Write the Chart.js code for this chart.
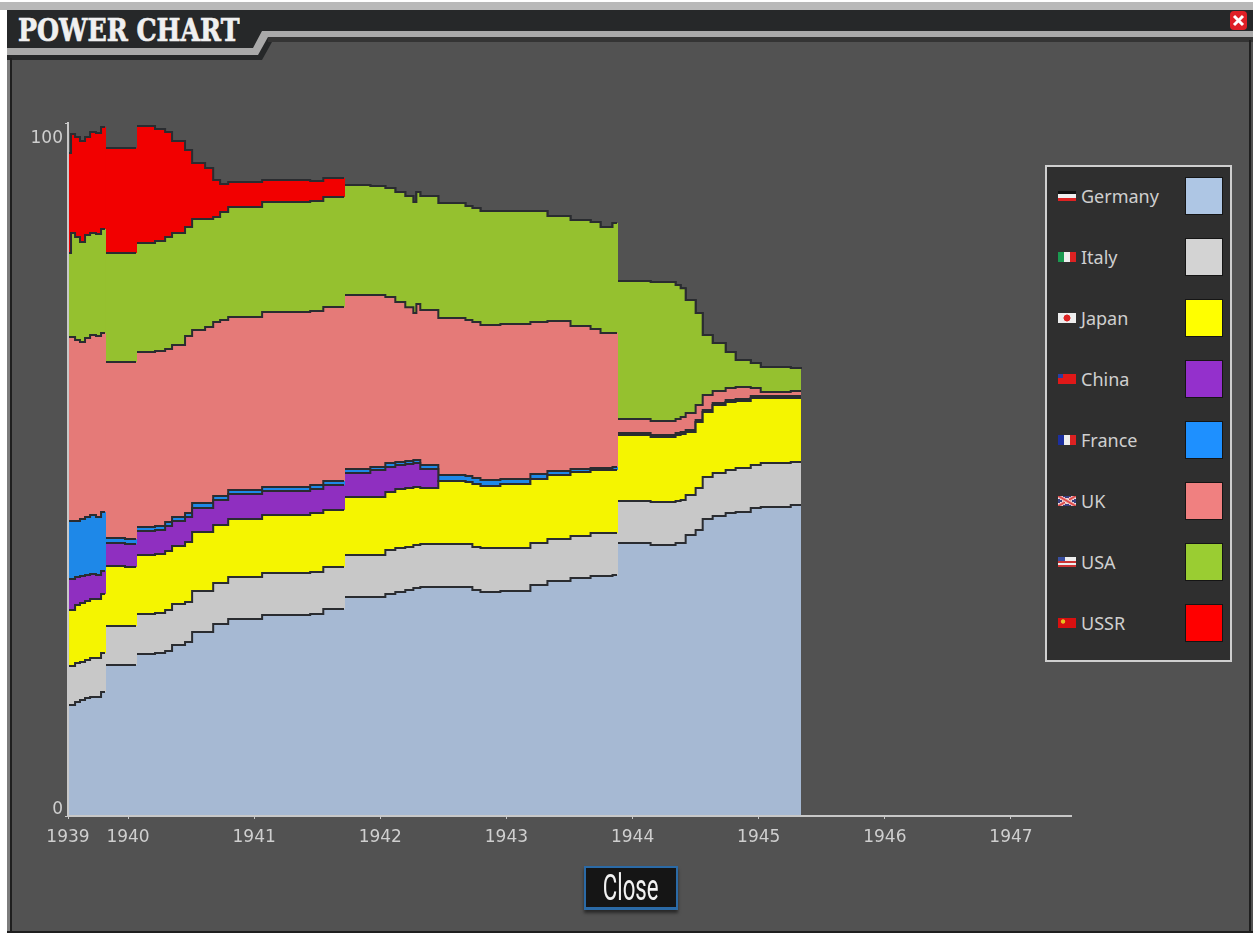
<!DOCTYPE html>
<html>
<head>
<meta charset="utf-8">
<title>Power Chart</title>
<script src="https://cdn.jsdelivr.net/npm/chart.js@4/dist/chart.umd.min.js"></script>
<style>
    html, body { margin: 0; padding: 0; background: #fff; }
    #stage { position: relative; width: 1253px; height: 933px; overflow: hidden; background: #fff; }
    #panel { position: absolute; left: 7px; top: 2px; width: 1246px; height: 931px; background: #525252; }
    #frame { position: absolute; left: 0; top: 0; }
    #chart-wrap { position: absolute; left: 0; top: 0; width: 1253px; height: 933px; }
    #title {
        position: absolute; left: 18px; top: 10px; color: #f0f0f0; white-space: nowrap;
        font: bold 32px "DejaVu Serif", serif; line-height: 40px;
        -webkit-text-stroke: 0.7px #f0f0f0;
        transform: scaleX(0.79); transform-origin: left center;
    }
    #legend {
        position: absolute; left: 1045px; top: 165px; width: 183px; height: 493px;
        background: #2f2f2f; border: 2px solid #cfcfcf;
    }
    .row { position: absolute; left: 0; width: 183px; height: 38px; }
    .flag { position: absolute; left: 11px; top: 14px; width: 18px; height: 10px; }
    .name { position: absolute; left: 34px; top: 0; font: 18px "Noto Sans", sans-serif; line-height: 38px; color: #cfcfcf; }
    .swatch { position: absolute; left: 138px; top: 0; width: 36px; height: 36px; border: 1px solid #151515; }
    #close {
        position: absolute; left: 584px; top: 866px; width: 90px; height: 39px;
        background: #151515; border: 2px solid #2b6aa6; border-bottom-width: 3px; color: #f2f2f2;
        text-align: center; box-shadow: 0 3px 3px rgba(0,0,0,0.5);
    }
    #close span {
        display: inline-block; font: 30px "Liberation Sans Narrow", "Roboto", sans-serif; line-height: 39px;
        transform: scale(0.74, 1.2);
    }
</style>
</head>
<body>
<div id="stage">
    <div id="panel"></div>
    <svg id="frame" width="1253" height="933">
        <rect x="0" y="2" width="1253" height="8" fill="#b9b9b9"/>
        <rect x="7" y="10" width="1246" height="22" fill="#262829"/>
        <rect x="7" y="48" width="7" height="12" fill="#2a2a2a"/>
        <path d="M7 32H278V42H272L262 60H7Z" fill="#262829"/>
        <path d="M262 31H1253V37H268L258 55H7V48H253Z" fill="#a9a9a9"/>
        <rect x="268" y="37" width="985" height="5" fill="#343434"/>
        <rect x="7" y="60" width="3" height="873" fill="#7c7c7c"/>
        <rect x="10" y="58" width="2" height="875" fill="#1f1f1f"/>
        <rect x="1249" y="40" width="2" height="893" fill="#1f1f1f"/>
        <rect x="7" y="931" width="1246" height="2" fill="#1f1f1f"/>
        <rect x="1230" y="11" width="17" height="19" rx="4" fill="#df1f26"/>
        <path d="M1234 16L1243 25M1243 16L1234 25" stroke="#fff" stroke-width="3"/>
    </svg>
    <div id="title">POWER CHART</div>
    <div id="chart-wrap"><canvas id="power-chart" width="1253" height="933"></canvas></div>
    <div id="legend"></div>
    <div id="close"><span>Close</span></div>
</div>

<script>
// dates, the two-point pairs are the sudden jumps
const xDates = [
    1939.524, 1939.548, 1939.580, 1939.619, 1939.659, 1939.699, 1939.746, 1939.786, 1939.81734, 1939.82527,
    1939.976, 1940.06312, 1940.07105, 1940.214, 1940.294, 1940.349, 1940.452, 1940.508, 1940.611, 1940.675,
    1940.730, 1940.794, 1941.063, 1941.444, 1941.548, 1941.71219, 1941.72012, 1941.921, 1942.040, 1942.119,
    1942.198, 1942.262, 1942.286, 1942.317, 1942.456, 1942.460, 1942.675, 1942.730, 1942.794, 1942.952,
    1943.190, 1943.325, 1943.508, 1943.667, 1943.746, 1943.841, 1943.87659, 1943.88452, 1944.143, 1944.341,
    1944.381, 1944.421, 1944.500, 1944.556, 1944.635, 1944.738, 1944.817, 1944.937, 1945.016, 1945.254,
    1945.33538
];
const jumpDates = [1939.82527, 1940.07105, 1941.72012, 1943.88452];

const germany = [
    16.02, 16.02, 16.45, 16.74, 17.03, 17.17, 17.17, 17.89, 17.89, 21.79,
    21.79, 21.79, 23.38, 23.52, 23.81, 24.68, 25.11, 26.55, 26.55, 27.71,
    27.71, 28.43, 29.00, 29.15, 29.87, 29.87, 31.60, 31.60, 32.03, 32.32,
    32.61, 32.90, 32.90, 33.04, 33.04, 33.04, 33.04, 32.61, 32.32, 32.47,
    33.33, 33.91, 34.34, 34.63, 34.63, 34.78, 34.78, 39.39, 39.11, 39.39,
    39.39, 40.55, 41.27, 42.86, 43.29, 43.72, 43.87, 44.44, 44.59, 44.88,
    44.88
];
const italy = [
    5.63, 5.63, 5.63, 5.48, 5.48, 5.63, 5.63, 5.63, 5.63, 5.63,
    5.63, 5.63, 5.77, 5.77, 5.92, 5.92, 5.77, 5.92, 5.92, 5.92,
    5.92, 6.06, 6.06, 6.06, 6.06, 6.06, 6.06, 6.06, 6.35, 6.35,
    6.20, 6.20, 6.20, 6.20, 6.20, 6.20, 6.20, 6.20, 6.35, 6.20,
    6.06, 6.06, 6.06, 6.20, 6.20, 6.06, 6.06, 6.06, 6.20, 6.06,
    6.20, 5.77, 6.06, 6.06, 6.20, 6.20, 6.35, 6.20, 6.35, 6.20,
    6.20
];
const japan = [
    8.08, 8.08, 8.37, 8.51, 8.51, 8.51, 8.51, 8.51, 8.51, 8.66,
    8.51, 8.51, 8.51, 8.51, 8.51, 8.37, 8.66, 8.51, 8.51, 8.37,
    8.37, 8.37, 8.37, 8.51, 8.23, 8.23, 8.37, 8.37, 8.37, 8.51,
    8.51, 8.37, 8.37, 8.08, 8.08, 9.09, 8.95, 9.09, 8.95, 9.24,
    9.24, 9.24, 9.24, 9.09, 9.09, 9.09, 9.09, 9.52, 9.38, 9.52,
    9.52, 9.09, 9.52, 9.38, 9.81, 9.81, 9.67, 9.67, 9.38, 9.24,
    9.24
];
const china = [
    4.47, 4.47, 4.04, 3.90, 3.75, 3.61, 3.46, 3.32, 3.32, 3.32,
    3.32, 3.32, 3.46, 3.46, 3.61, 3.61, 3.61, 3.46, 3.46, 3.61,
    3.61, 3.61, 3.46, 3.46, 3.61, 3.61, 3.46, 3.90, 3.61, 3.46,
    3.46, 3.46, 3.46, 2.74, 2.74, 0, 0, 0, 0, 0,
    0, 0, 0, 0, 0, 0, 0, 0, 0, 0,
    0, 0, 0, 0, 0, 0, 0, 0, 0, 0,
    0
];
const france = [
    8.37, 8.37, 8.08, 8.23, 8.37, 8.51, 8.37, 8.51, 8.51, 0.72,
    0.72, 0.72, 0.58, 0.58, 0.58, 0.58, 0.58, 0.72, 0.72, 0.58,
    0.58, 0.58, 0.58, 0.58, 0.58, 0.58, 0.58, 0.43, 0.58, 0.43,
    0.43, 0.43, 0.43, 0.58, 0.58, 0.87, 0.87, 0.87, 0.87, 0.72,
    0.72, 0.58, 0.43, 0.29, 0.29, 0.43, 0.43, 0.29, 0.29, 0.29,
    0.29, 0.29, 0.29, 0.29, 0.29, 0.29, 0.29, 0.29, 0.29, 0.29,
    0.29
];
const uk = [
    26.55, 26.55, 26.12, 25.54, 25.83, 25.97, 26.12, 25.83, 25.83, 25.40,
    25.54, 25.54, 25.25, 25.25, 24.96, 24.82, 25.54, 24.96, 25.40, 25.11,
    25.40, 24.96, 25.25, 25.11, 25.11, 25.11, 25.11, 24.82, 23.95, 23.09,
    22.22, 21.21, 22.51, 22.37, 22.37, 22.66, 22.51, 22.51, 22.37, 22.37,
    21.93, 21.65, 20.63, 20.06, 19.48, 19.34, 19.34, 2.02, 2.02, 2.02,
    2.16, 2.45, 2.16, 2.16, 1.73, 1.73, 1.73, 1.15, 0.58, 0.72,
    0.72
];
const usa = [
    12.12, 15.01, 14.86, 14.43, 14.86, 14.72, 14.72, 15.01, 15.01, 15.73,
    15.73, 15.73, 15.73, 15.87, 16.16, 16.16, 15.73, 16.02, 15.58, 15.15,
    15.58, 15.87, 15.87, 15.87, 15.87, 15.87, 15.87, 15.73, 15.73, 15.87,
    16.02, 16.02, 16.16, 16.45, 16.45, 16.59, 16.45, 16.45, 16.45, 16.31,
    16.02, 15.15, 15.30, 15.44, 15.30, 15.87, 15.87, 19.91, 20.06, 19.34,
    18.61, 16.31, 13.28, 8.66, 6.93, 5.19, 3.90, 3.61, 3.61, 3.32,
    3.17
];
const ussr = [
    14.43, 14.29, 14.43, 14.57, 14.14, 14.57, 14.57, 14.72, 14.72, 15.15,
    15.15, 15.15, 16.88, 16.16, 15.15, 13.28, 11.11, 8.08, 7.36, 5.34,
    4.04, 3.61, 3.17, 2.89, 2.74, 2.74, 0, 0, 0, 0,
    0, 0, 0, 0, 0, 0, 0, 0, 0, 0,
    0, 0, 0, 0, 0, 0, 0, 0, 0, 0,
    0, 0, 0, 0, 0, 0, 0, 0, 0, 0,
    0
];

const seriesNames = ['Germany', 'Italy', 'Japan', 'China', 'France', 'UK', 'USA', 'USSR'];
const seriesValues = [germany, italy, japan, china, france, uk, usa, ussr];
const bandColors = ['#a6b9d3', '#c8c8c8', '#f5f500', '#8f2fc0', '#1e88e8', '#e57a78', '#95c12f', '#f20000'];
const swatchColors = ['#aec6e4', '#d3d3d3', '#ffff00', '#9430cc', '#1e90ff', '#f08080', '#9acd32', '#ff0000'];
const flagStyles = [
    'linear-gradient(#111 33%, #eee 33%, #eee 66%, #d22 66%)',
    'linear-gradient(90deg, #1a9a50 33%, #eee 33%, #eee 66%, #d22 66%)',
    'radial-gradient(circle, #d22 32%, #eee 36%)',
    'linear-gradient(90deg, #2a3fa0 30%, transparent 30%) 0 0 / 100% 40% no-repeat, #e01818',
    'linear-gradient(90deg, #1c2fa0 33%, #eee 33%, #eee 66%, #d22 66%)',
    'linear-gradient(30deg, transparent 38%, #eee 38%, #d33 50%, #eee 62%, transparent 62%), linear-gradient(-30deg, transparent 38%, #eee 38%, #d33 50%, #eee 62%, transparent 62%), #3a3f80',
    'linear-gradient(90deg, #3a4fa0 40%, transparent 40%) 0 0 / 100% 40% no-repeat, linear-gradient(#eee 40%, #c33 40%, #c33 60%, #eee 60%, #eee 80%, #c33 80%)',
    'radial-gradient(circle at 28% 35%, #e8c020 12%, transparent 18%), #d81010'
];

const tickDates = [1939.524, 1940, 1941, 1942, 1943, 1944, 1945, 1946, 1947];
const tickLabels = ['1939', '1940', '1941', '1942', '1943', '1944', '1945', '1946', '1947'];
const xMin = 1939.524;
const xMax = 1947.476;

function renderLegend() {
    const html = seriesNames.map((name, i) => `
        <div class="row" style="top:${10 + i * 61}px">
            <div class="flag" style="background:${flagStyles[i]}"></div>
            <div class="name">${name}</div>
            <div class="swatch" style="background:${swatchColors[i]}"></div>
        </div>
    `).join('');
    document.getElementById('legend').innerHTML = html;
}

function makeDatasets() {
    return seriesNames.map((name, i) => ({
        label: name,
        data: seriesValues[i],
        backgroundColor: bandColors[i],
        borderColor: '#2a2c30',
        borderWidth: 2,
        borderCapStyle: 'butt',
        fill: 'origin',
        stepped: true,
        pointRadius: 0,
        segment: {
            // no dark edge down the big jumps
            borderColor: ctx => jumpDates.includes(xDates[ctx.p1DataIndex]) ? 'transparent' : undefined
        }
    }));
}

function renderChart() {
    const ctx = document.getElementById('power-chart');
    return new Chart(ctx, {
        type: 'line',
        data: { labels: xDates, datasets: makeDatasets() },
        options: {
            responsive: false,
            animation: false,
            layout: { padding: { left: 0, right: 182, top: 123, bottom: 0 } },
            plugins: { legend: { display: false }, tooltip: { enabled: false } },
            scales: {
                x: {
                    type: 'linear',
                    min: xMin,
                    max: xMax,
                    afterBuildTicks: scale => { scale.ticks = tickDates.map(v => ({ value: v })); },
                    afterFit: scale => { scale.height = 117; },
                    grid: { drawOnChartArea: false, color: '#c8c8c8', tickLength: 3 },
                    border: { color: '#c8c8c8', width: 2, z: 1 },
                    ticks: {
                        autoSkip: false,
                        maxRotation: 0,
                        padding: 8,
                        color: '#cfcfcf',
                        font: { family: '"DejaVu Sans"', size: 17 },
                        callback: (value, index) => tickLabels[index]
                    }
                },
                y: {
                    stacked: true,
                    min: 0,
                    max: 100,
                    afterBuildTicks: scale => { scale.ticks = [{ value: 0 }, { value: 100 }]; },
                    afterFit: scale => { scale.width = 68; },
                    grid: { drawOnChartArea: false, color: '#c8c8c8', tickLength: 3 },
                    border: { color: '#c8c8c8', width: 2, z: 1 },
                    ticks: {
                        padding: 2,
                        labelOffset: 5,
                        color: '#cfcfcf',
                        font: { family: '"DejaVu Sans"', size: 17, lineHeight: '22px' },
                        // the labels sit inside the axis ends, not level with the ticks
                        callback: value => value === 0 ? ['0', ''] : ['', '100']
                    }
                }
            }
        }
    });
}

renderLegend();
renderChart();
</script>
</body>
</html>
